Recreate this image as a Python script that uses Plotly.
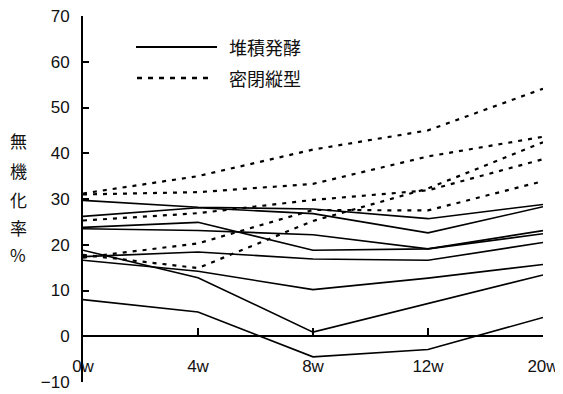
import plotly.graph_objects as go

weeks = ["0w", "4w", "8w", "12w", "20w"]
x_pos = [0, 1, 2, 3, 4]

# 堆積発酵 (solid lines)
solid_a = [29.7, 28.2, 27.8, 25.7, 28.8]
solid_b = [26.2, 28.1, 26.8, 22.6, 28.3]
solid_c = [23.8, 24.9, 18.8, 19.1, 23.1]
solid_d = [23.5, 23.1, 22.2, 19.1, 22.4]
solid_e = [17.4, 18.4, 16.9, 16.6, 20.5]
solid_f = [18.8, 12.8, 0.9, 7.1, 13.4]
solid_g = [16.6, 14.2, 10.2, 12.7, 15.7]
solid_h = [8.0, 5.3, -4.5, -2.9, 4.1]

# 密閉縦型 (dashed lines)
dash_p = [31.2, 35.0, 40.8, 45.0, 54.1]
dash_q = [31.0, 31.5, 33.3, 39.3, 43.6]
dash_r = [25.3, 26.9, 29.8, 31.9, 38.7]
dash_s = [17.2, 20.3, 27.6, 27.5, 33.9]
dash_t = [17.8, 14.9, 25.2, 32.3, 42.4]

y_ticks = [-10, 0, 10, 20, 30, 40, 50, 60, 70]
legend_names = ["堆積発酵", "密閉縦型"]
y_title_chars = ["無", "機", "化", "率", "%"]

solid_series = [solid_a, solid_b, solid_c, solid_d, solid_e, solid_f, solid_g, solid_h]
dash_series = [dash_p, dash_q, dash_r, dash_s, dash_t]

fig = go.Figure()
for s in solid_series:
    fig.add_trace(go.Scatter(x=x_pos, y=s, mode="lines", showlegend=False,
                             line=dict(color="black", width=1.6)))
for s in dash_series:
    fig.add_trace(go.Scatter(x=x_pos, y=s, mode="lines", showlegend=False,
                             line=dict(color="black", width=2.2, dash="4px,6px")))

FONT = "Liberation Sans, Arial, sans-serif"
CJK = "Noto Sans CJK JP, sans-serif"

# the page body has an 8px margin; work in page pixels and offset
OFF = 8
W, H = 563 - OFF, 394 - OFF
L, R, T, B = 83 - OFF, 543 - OFF, 16 - OFF, 382 - OFF
def px(xp):
    return (xp - OFF - L) / (R - L)
def py(yp):
    return (B - (yp - OFF)) / (B - T)

fig.update_layout(
    width=W, height=H,
    margin=dict(l=L, r=W - R, t=T, b=H - B),
    paper_bgcolor="white", plot_bgcolor="white",
    xaxis=dict(range=[0, 4], tickvals=x_pos, ticktext=weeks,
               anchor="free", position=10 / 80, side="bottom",
               showline=True, linecolor="black", linewidth=2,
               ticks="inside", ticklen=7, tickwidth=2, tickcolor="black",
               ticklabelstandoff=14, automargin=False,
               ticklabeloverflow="allow",
               showgrid=False, zeroline=False,
               tickfont=dict(family=FONT, size=17, color="#111")),
    yaxis=dict(range=[-10, 70], tickvals=y_ticks,
               showline=True, linecolor="black", linewidth=2,
               ticks="inside", ticklen=6, tickwidth=2, tickcolor="black",
               showgrid=False, zeroline=False, ticklabelstandoff=8,
               automargin=False, ticklabeloverflow="allow",
               tickfont=dict(family=FONT, size=17, color="#111")),
)

# manual legend
fig.add_shape(type="line", xref="paper", yref="paper",
              x0=px(136), x1=px(217), y0=py(47), y1=py(47),
              line=dict(color="black", width=1.8))
fig.add_shape(type="line", xref="paper", yref="paper",
              x0=px(137), x1=px(212), y0=py(78), y1=py(78),
              line=dict(color="black", width=2.4, dash="5px,6px"))
for name, yp in zip(legend_names, [47, 78]):
    fig.add_annotation(text=name, xref="paper", yref="paper",
                       x=px(227), y=py(yp), xanchor="left", yanchor="middle",
                       showarrow=False, font=dict(family=CJK, size=18, color="#111"))

# vertical axis title
for ch, yp in zip(y_title_chars, [140, 170, 199, 227, 255]):
    fig.add_annotation(text=ch, xref="paper", yref="paper",
                       x=px(18), y=py(yp), xanchor="center", yanchor="middle",
                       showarrow=False, font=dict(family=CJK, size=17, color="#111"))

fig.write_html("out.html")
